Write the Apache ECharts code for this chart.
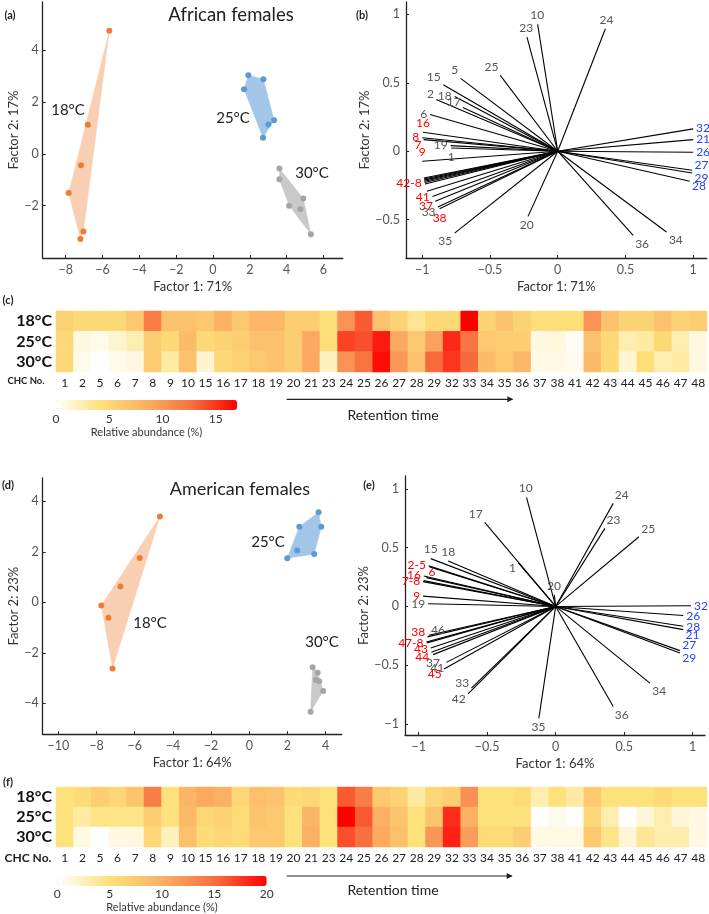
<!DOCTYPE html>
<html><head><meta charset="utf-8">
<script src="https://cdn.jsdelivr.net/npm/echarts@6/dist/echarts.min.js"></script>
<style>html,body{margin:0;padding:0;background:#fff}#c{width:709px;height:914px}</style>
</head><body><div id="c"></div>
<script>
const FONT = 'Lato, "Open Sans", sans-serif';

// ---------- data ----------
const chcNos = ['1','2','5','6','7','8','9','10','15','16','17','18','19','20','21','23','24','25','26','27','28','29','32','33','34','35','36','37','38','41','42','43','44','45','46','47','48'];
const tempRows = ['18°C','25°C','30°C'];

// (a) African females, PCA scores
const afrPts18 = [[-5.63,4.75],[-6.80,1.12],[-7.17,-0.44],[-7.84,-1.51],[-7.04,-3.00],[-7.20,-3.29]];
const afrPts25 = [[1.92,3.03],[2.74,2.88],[1.69,2.49],[3.32,1.30],[3.01,1.13],[2.72,0.62]];
const afrPts30 = [[3.61,-0.57],[3.61,-0.98],[4.91,-1.72],[4.14,-2.00],[4.75,-2.14],[5.32,-3.10]];
// (d) American females
const amePts18 = [[-4.68,3.40],[-5.74,1.76],[-6.75,0.63],[-7.75,-0.12],[-7.38,-0.61],[-7.16,-2.62]];
const amePts25 = [[3.63,3.57],[2.62,3.00],[3.77,3.00],[2.51,2.06],[3.40,1.92],[1.99,1.75]];
const amePts30 = [[3.32,-2.57],[3.58,-2.79],[3.49,-3.07],[3.66,-3.13],[3.87,-3.51],[3.21,-4.34]];

// (b) loadings African
const vecB_ids = ['10','23','24','25','5','15','18','2','17','6','16','8','7','19','1','9','42','43','44','45','46','47','48','41','37','33','38','35','20','36','34','32','21','26','27','29','28'];
const vecB_text = ['10','23','24','25','5','15','18','2','17','6','16','8','7','19','1','9','42-8','','','','','','','41','37','33','38','35','20','36','34','32','21','26','27','29','28'];
const vecB_x = [-0.148,-0.227,0.352,-0.424,-0.717,-0.845,-0.76,-0.897,-0.70,-0.943,-0.995,-1.0,-0.99,-0.79,-0.786,-1.0,-0.988,-0.987,-0.986,-0.985,-0.983,-0.98,-0.966,-0.925,-0.904,-0.885,-0.872,-0.761,-0.219,0.557,0.803,1.0,1.0,1.0,0.993,0.993,0.975];
const vecB_y = [0.927,0.834,0.895,0.554,0.532,0.485,0.40,0.378,0.32,0.268,0.139,0.098,0.085,0.041,0.024,-0.073,-0.195,-0.203,-0.211,-0.219,-0.228,-0.24,-0.293,-0.33,-0.366,-0.407,-0.421,-0.598,-0.476,-0.615,-0.59,0.163,0.085,-0.007,-0.139,-0.159,-0.22];
const vecB_red = ['16','8','7','9','42','41','37','38'];
const vecB_blue = ['32','21','26','27','29','28'];

// (e) loadings American
const vecE_ids = ['10','17','24','23','25','1','20','15','18','2','5','16','6','7','8','9','19','32','26','28','21','27','29','34','36','35','38','46','47','48','43','44','37','41','45','33','42'];
const vecE_text = ['10','17','24','23','25','1','20','15','18','2-5','','16','6','7-8','','9','19','32','26','28','21','27','29','34','36','35','38','46','47-8','','43','44','37','41','45','33','42'];
const vecE_x = [-0.213,-0.518,0.42,0.359,0.608,-0.274,-0.01,-0.912,-0.785,-0.927,-0.92,-0.963,-0.944,-0.968,-0.965,-0.968,-0.931,0.988,0.931,0.931,0.931,0.907,0.907,0.688,0.42,-0.123,-0.936,-0.927,-0.944,-0.94,-0.912,-0.907,-0.895,-0.798,-0.815,-0.615,-0.64];
const vecE_y = [0.929,0.715,0.877,0.664,0.593,0.373,0.10,0.407,0.387,0.345,0.335,0.259,0.245,0.211,0.22,0.088,0.023,0.006,-0.077,-0.168,-0.197,-0.376,-0.396,-0.652,-0.852,-0.952,-0.259,-0.245,-0.302,-0.31,-0.353,-0.39,-0.41,-0.476,-0.533,-0.695,-0.744];
const vecE_red = ['2','5','16','6','7','8','9','38','47','48','43','44','45'];
const vecE_blue = ['32','26','28','21','27','29'];

// (c) heatmap African, relative abundance (%)
const afr18 = [5.5,5,5,5,6.5,12,7,7,6.5,8.5,6.5,8,8,6,6,4.5,10.5,13.5,7,5.5,3.5,5,5,17,5.5,7,5.5,4.5,4.5,4.5,10.5,7,5.5,5.5,7,5.5,6];
const afr25 = [5,1,0.7,1.5,2.5,6,5,7.5,5,5.5,6,7,7,6,9,4.5,14.5,14,16,9,6.5,9.5,15.5,12.5,6.5,6,6,1,1.2,0.3,7,5,2.5,3,5,2.5,1];
const afr30 = [5,0.6,0,0.7,1,6,3,7,1.5,5,5.5,6.5,7,6,9,2,10.5,12.5,16.5,10,7,13,15,13,7.5,6.5,8,0.8,0.8,0.5,7.5,5,1.5,4.5,2.5,3,1];
// (f) heatmap American
const ame18 = [5,5.5,7,6,8,14,5,9.5,10.5,10,6,8.5,8,5.5,6,5,16,14,7.5,6.5,3.5,6,7,12.5,5,5,5.5,3,5,3.5,7.5,5,5,5,5.5,5,5];
const ame25 = [5,3.5,4.5,4.5,4.5,7,5,9,6,6.5,5.5,8,7.5,5,9.5,5,20,16,10,8,5,8,18,10,5,5,5,0.2,0.7,0.2,6,3,0.2,1.5,3,1.5,1];
const ame30 = [5,1,0,1,1.2,6,2.5,8.5,5.5,6,5.5,7.5,7.5,5,10,5,16.5,15,10.5,8.5,5,12,18.5,11.5,5.5,5.5,7,1,1,1,7.5,4.5,1.5,4,3,3,1];

// tick values
const ticksAX = [-8,-6,-4,-2,0,2,4,6];
const ticksAY = [-2,0,2,4];
const ticksDX = [-10,-8,-6,-4,-2,0,2,4];
const ticksDY = [-4,-2,0,2,4];
const ticksLoad = [-1,-0.5,0,0.5,1];
const cbarTicksC = [0,5,10,15];
const cbarTicksF = [0,5,10,15,20];

// label placement hints for crowded loading labels (style only)
const placeB = {'16':'top','7':'bl','1':'bottom','9':'top','42':'bl','37':'bl','33':'bl','38':'bottom','27':'tr','29':'br','28':'br','2':'tl','17':'tl','18':'left'};
const placeE = {'1':'bl','15':'top','18':'top','6':'tr','21':'br','27':'tr','29':'br','38':'tl','46':'tr','44':'bl','37':'bottom','41':'bl','45':'bl','33':'tl','42':'bl'};

// ---------- helpers ----------
const cmap = ['#ffffff','#fde17a','#fbb064','#f8703f','#ff0000'];
const C_OR = '#ed7d31', C_BL = '#5b9bd5', C_GR = '#a5a5a5';
const F_OR = '#f8cfb3', F_BL = '#a3c6e8', F_GR = '#c9c9c9';

function hull(pts){
  const p = pts.slice().sort((a,b)=>a[0]-b[0]||a[1]-b[1]);
  const cr=(o,a,b)=>(a[0]-o[0])*(b[1]-o[1])-(a[1]-o[1])*(b[0]-o[0]);
  const lo=[],up=[];
  for(const q of p){while(lo.length>=2&&cr(lo[lo.length-2],lo[lo.length-1],q)<=0)lo.pop();lo.push(q);}
  for(let i=p.length-1;i>=0;i--){const q=p[i];while(up.length>=2&&cr(up[up.length-2],up[up.length-1],q)<=0)up.pop();up.push(q);}
  up.pop();lo.pop();return lo.concat(up);
}
const fmt = v => String(+v.toFixed(2)).replace('-', '\u2212');
const axLine = {show:true,onZero:false,lineStyle:{color:'#222',width:1.3}};

function valAxis(gi,min,max,ticks,name,gap,lblMargin){
  return {type:'value',gridIndex:gi,min,max,
    axisLine:axLine,
    axisTick:{show:true,inside:true,length:3,lineStyle:{color:'#222'},customValues:ticks},
    axisLabel:{customValues:ticks,formatter:fmt,color:'#555',fontSize:12.5,margin:lblMargin,fontFamily:FONT},
    splitLine:{show:false},
    name,nameLocation:'middle',nameGap:gap,nameTextStyle:{color:'#333',fontSize:13,fontFamily:FONT}};
}

function hullSeries(gi,pts,fill){
  const h = hull(pts);
  return {type:'custom',xAxisIndex:gi,yAxisIndex:gi,data:pts,z:1,silent:true,
    renderItem:(params,api)=>{
      if(params.dataIndex!==0) return null;
      return {type:'polygon',shape:{points:h.map(q=>api.coord(q))},style:{fill:fill,stroke:fill,lineWidth:0.5}};
    }};
}
function ptSeries(gi,pts,col){
  return {type:'scatter',xAxisIndex:gi,yAxisIndex:gi,data:pts,symbolSize:6,z:3,
    itemStyle:{color:col,opacity:1},silent:true};
}
function placeLabel(pos,e,dx,dy,g){
  const d=g*0.75;
  switch(pos){
    case 'top': return [e[0],e[1]-g,'center','bottom'];
    case 'bottom': return [e[0],e[1]+g,'center','top'];
    case 'left': return [e[0]-g,e[1],'right','middle'];
    case 'right': return [e[0]+g,e[1],'left','middle'];
    case 'tl': return [e[0]-d,e[1]-d+3,'right','bottom'];
    case 'bl': return [e[0]-d,e[1]+d-3,'right','top'];
    case 'tr': return [e[0]+d,e[1]-d+3,'left','bottom'];
    case 'br': return [e[0]+d,e[1]+d-3,'left','top'];
  }
  const align=dx<-0.45?'right':dx>0.45?'left':'center';
  const valign=dy<-0.45?'bottom':dy>0.45?'top':'middle';
  return [e[0]+dx*g,e[1]+dy*g,align,valign];
}
function vecSeries(gi,ids,texts,xs,ys,red,blue,place){
  return {type:'custom',xAxisIndex:gi,yAxisIndex:gi,silent:true,z:3,
    data:xs.map((x,i)=>[x,ys[i]]),
    renderItem:(params,api)=>{
      const i=params.dataIndex;
      const o=api.coord([0,0]);
      const e=api.coord([api.value(0),api.value(1)]);
      let dx=e[0]-o[0],dy=e[1]-o[1];
      const L=Math.hypot(dx,dy)||1;dx/=L;dy/=L;
      const id=ids[i];
      const pl=placeLabel(place[id],e,dx,dy,3);
      const col=red.includes(id)?'#ff0000':blue.includes(id)?'#2244ff':'#555';
      return {type:'group',children:[
        {type:'line',shape:{x1:o[0],y1:o[1],x2:e[0],y2:e[1]},style:{stroke:'#000',lineWidth:1.1}},
        {type:'text',x:pl[0],y:pl[1],style:{text:texts[i],fill:col,fontSize:12,fontFamily:FONT,align:pl[2],verticalAlign:pl[3]}}
      ]};
    }};
}
function heatData(rows){
  const d=[];rows.forEach((r,ri)=>r.forEach((v,ci)=>d.push([ci,ri,v])));return d;
}
function catX(gi){return {type:'category',gridIndex:gi,data:chcNos,axisLine:{show:false},axisTick:{show:false},
  axisLabel:{interval:0,color:'#222',fontSize:12,margin:5,fontFamily:FONT},splitLine:{show:false}};}
function catY(gi){return {type:'category',gridIndex:gi,data:tempRows,inverse:true,axisLine:{show:false},axisTick:{show:false},
  axisLabel:{interval:0,color:'#111',fontSize:16,fontWeight:'bold',margin:4,fontFamily:FONT},splitLine:{show:false}};}
function cbarX(gi,max,ticks){return {type:'value',gridIndex:gi,min:0,max:max,axisLine:{show:false},axisTick:{show:false},
  axisLabel:{customValues:ticks,color:'#333',fontSize:12,margin:3,fontFamily:FONT},splitLine:{show:false},
  name:'Relative abundance (%)',nameLocation:'middle',nameGap:17,nameTextStyle:{color:'#333',fontSize:11,fontFamily:FONT}};}
function hideY(gi){return {type:'value',gridIndex:gi,show:false,min:0,max:1};}

const grids=[
  {left:42.7,top:2,width:300,height:256},
  {left:406,top:2,width:300.7,height:256},
  {left:56,top:311,width:651,height:61},
  {left:56,top:400,width:181,height:10},
  {left:42.7,top:478,width:299,height:256.3},
  {left:405,top:476,width:300,height:259},
  {left:56,top:787,width:651,height:60},
  {left:57.3,top:876,width:209.4,height:10}
];

const series=[
  hullSeries(0,afrPts18,F_OR),hullSeries(0,afrPts25,F_BL),hullSeries(0,afrPts30,F_GR),
  ptSeries(0,afrPts18,C_OR),ptSeries(0,afrPts25,C_BL),ptSeries(0,afrPts30,C_GR),
  vecSeries(1,vecB_ids,vecB_text,vecB_x,vecB_y,vecB_red,vecB_blue,placeB),
  {type:'heatmap',xAxisIndex:2,yAxisIndex:2,data:heatData([afr18,afr25,afr30]),silent:true,itemStyle:{borderWidth:0}},
  hullSeries(4,amePts18,F_OR),hullSeries(4,amePts25,F_BL),hullSeries(4,amePts30,F_GR),
  ptSeries(4,amePts18,C_OR),ptSeries(4,amePts25,C_BL),ptSeries(4,amePts30,C_GR),
  vecSeries(5,vecE_ids,vecE_text,vecE_x,vecE_y,vecE_red,vecE_blue,placeE),
  {type:'heatmap',xAxisIndex:6,yAxisIndex:6,data:heatData([ame18,ame25,ame30]),silent:true,itemStyle:{borderWidth:0}}
];
const heatC = 7, heatF = 15;

function txt(x,y,text,size,opts){
  return {type:'text',x:x,y:y,silent:true,style:Object.assign({text:text,fill:'#222',fontSize:size,fontFamily:FONT,align:'center',verticalAlign:'middle'},opts||{})};
}
function arrow(x1,x2,y){
  return {type:'group',silent:true,children:[
    {type:'line',shape:{x1:x1,y1:y,x2:x2-1,y2:y},style:{stroke:'#222',lineWidth:1.2}},
    {type:'polygon',shape:{points:[[x2,y],[x2-6,y-3],[x2-6,y+3]]},style:{fill:'#222'}}
  ]};
}
const B={fontWeight:'bold'};
const graphic=[
  txt(10,15,'(a)',11,B), txt(362,15,'(b)',11,B), txt(8,300,'(c)',11,B),
  txt(8,485,'(d)',11,B), txt(369,485,'(e)',11,B), txt(8,782,'(f)',11,B),
  txt(231,15,'African females',18.5),
  txt(68,110,'18°C',15), txt(233,118,'25°C',15), txt(312,173,'30°C',15),
  txt(240,489,'American females',18),
  txt(268,542,'25°C',15), txt(150,623,'18°C',15), txt(322,642,'30°C',15),
  txt(26,381,'CHC No.',9.5,B), txt(28,858,'CHC No.',12,B),
  arrow(286.7,513.3,399.3), txt(393,415,'Retention time',14),
  arrow(286.7,512.7,876), txt(393,890,'Retention time',14)
];

const option={
  animation:false,
  textStyle:{fontFamily:FONT},
  grid:grids,
  xAxis:[
    valAxis(0,-9.25,7.05,ticksAX,'Factor 1: 71%',22,5),
    valAxis(1,-1.12,1.10,ticksLoad,'Factor 1: 71%',22,5),
    catX(2), cbarX(3,17,cbarTicksC),
    valAxis(4,-10.82,4.84,ticksDX,'Factor 1: 64%',22,5),
    valAxis(5,-1.10,1.09,ticksLoad,'Factor 1: 64%',22,5),
    catX(6), cbarX(7,20,cbarTicksF)
  ],
  yAxis:[
    valAxis(0,-4.02,5.86,ticksAY,'Factor 2: 17%',20,4),
    valAxis(1,-0.78,1.09,ticksLoad,'Factor 2: 17%',25,6),
    catY(2), hideY(3),
    valAxis(4,-5.23,4.93,ticksDY,'Factor 2: 23%',21,4),
    valAxis(5,-1.094,1.11,ticksLoad,'Factor 2: 23%',25,6),
    catY(6), hideY(7)
  ],
  visualMap:[
    {type:'continuous',seriesIndex:heatC,min:0,max:17,orient:'horizontal',left:56,top:400,itemWidth:10,itemHeight:181,
     calculable:false,padding:0,hoverLink:false,inRange:{color:cmap}},
    {type:'continuous',seriesIndex:heatF,min:0,max:20,orient:'horizontal',left:57.3,top:876,itemWidth:10,itemHeight:209.4,
     calculable:false,padding:0,hoverLink:false,inRange:{color:cmap}}
  ],
  series:series,
  graphic:graphic
};
const chart=echarts.init(document.getElementById('c'),null,{renderer:'canvas'});
chart.setOption(option);
</script></body></html>
